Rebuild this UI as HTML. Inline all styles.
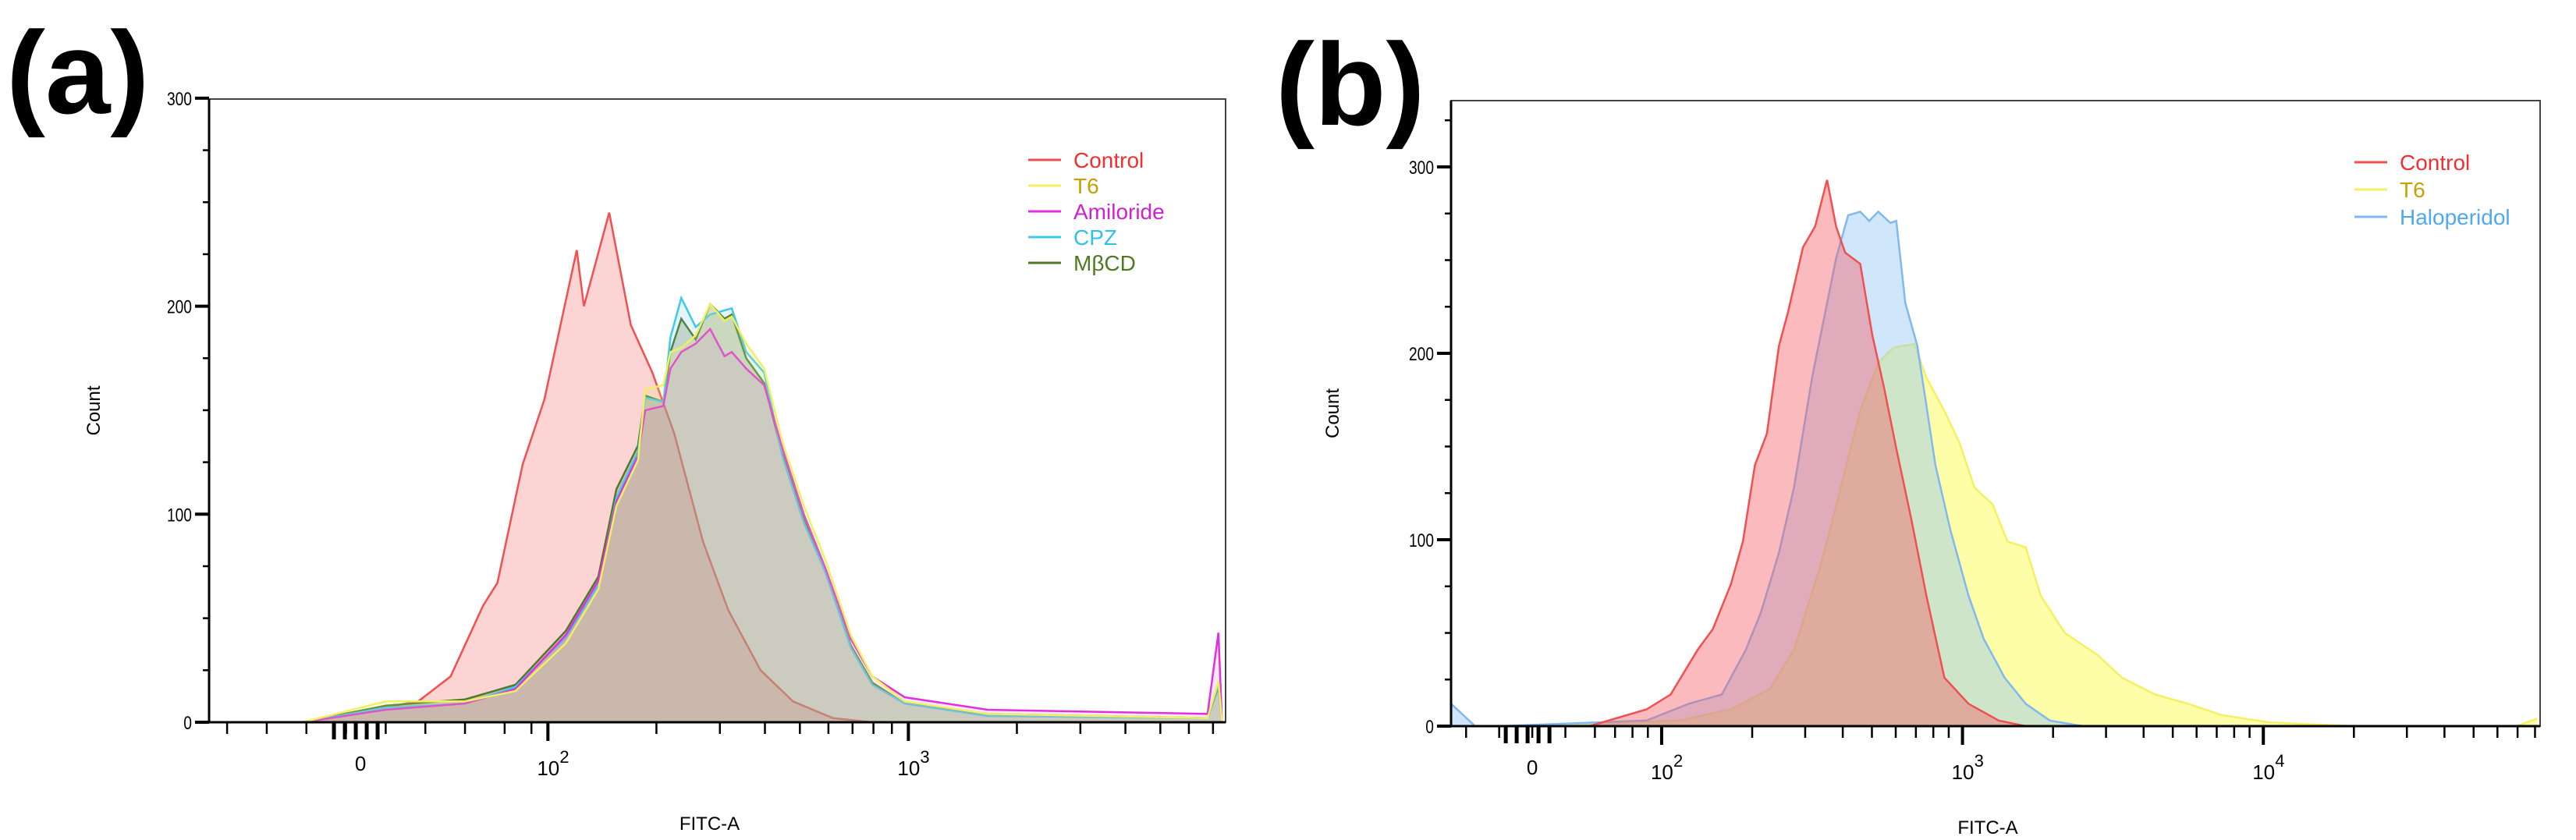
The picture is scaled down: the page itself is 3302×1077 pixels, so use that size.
<!DOCTYPE html>
<html><head><meta charset="utf-8">
<style>
html,body{margin:0;padding:0;background:#fff;}
svg{display:block;font-family:"Liberation Sans",Arial,sans-serif;}
</style></head>
<body>
<svg id="fig" width="3302" height="1077" viewBox="0 0 3302 1077">
  <text x="8" y="145" font-size="150" font-weight="bold">(a)</text>
  <text x="1635" y="160" font-size="150" font-weight="bold">(b)</text>
  <g id="pa"></g>
  <g id="pb"></g>
</svg>
<script>
// ---------- Panel (a) data (x in log-decade units, y counts) ----------
const aControlX=[1.32,1.64,1.73,1.82,1.86,1.93,1.99,2.08,2.10,2.17,2.23,2.29,2.35,2.43,2.50,2.59,2.68,2.79,2.90];
const aControlY=[0,10,22,56,67,124,155,227,200,245,191,168,139,87,54,25,10,2,0];
const aT6X=[1.32,1.55,1.77,1.91,2.05,2.14,2.19,2.25,2.27,2.32,2.34,2.37,2.41,2.45,2.49,2.51,2.55,2.60,2.65,2.71,2.77,2.84,2.90,2.99,3.22,3.83,3.86,3.87];
const aT6Y=[0,10,10,15,38,64,104,126,160,162,178,180,186,201,193,195,182,170,135,104,78,42,22,10,4,2,20,0];
const aAmiY=[0,6,9,16,42,68,106,128,150,152,170,178,182,189,176,178,170,162,132,100,74,40,22,12,6,4,43,0];
const aCpzY=[0,7,9,17,41,66,108,130,156,154,185,204,190,196,198,199,178,168,128,96,72,36,18,9,3,2,18,0];
const aMbcdY=[0,8,11,18,44,70,112,133,157,154,178,194,184,201,194,196,175,163,129,98,72,37,19,9,4,2,17,0];
// ---------- Panel (b) data ----------
const bControlX=[1.76,1.95,2.03,2.12,2.17,2.23,2.27,2.31,2.35,2.39,2.42,2.47,2.51,2.55,2.58,2.61,2.66,2.70,2.74,2.78,2.83,2.88,2.94,3.02,3.12,3.21];
const bControlY=[0,9,17,41,52,76,99,140,157,204,222,257,268,293,268,254,248,210,181,149,111,70,26,12,3,0];
const bHaloX=[1.30,1.38,1.46,1.95,2.09,2.20,2.28,2.33,2.39,2.44,2.50,2.54,2.58,2.62,2.66,2.69,2.72,2.76,2.78,2.81,2.85,2.91,2.96,3.02,3.07,3.14,3.21,3.29,3.40];
const bHaloY=[12,0,0,3,12,17,41,61,93,128,187,219,251,274,276,271,276,270,271,227,204,140,105,70,47,26,12,3,0];
const bT6X=[1.57,2.06,2.23,2.36,2.44,2.53,2.61,2.66,2.72,2.77,2.84,2.88,2.94,2.99,3.04,3.10,3.15,3.21,3.26,3.34,3.45,3.53,3.64,3.75,3.86,4.02,4.30,4.84,4.91];
const bT6Y=[0,3,9,20,41,87,137,169,195,203,205,187,169,152,128,119,99,96,70,50,38,26,17,12,6,2,0,0,4];
// tick labels
const aYTicks=[0,100,200,300];
const bYTicks=[0,100,200,300];
const aXDecades=[2,3];
const bXDecades=[2,3,4];

const NS="http://www.w3.org/2000/svg";
function mk(parent,tag,attrs){const e=document.createElementNS(NS,tag);for(const k in attrs)e.setAttribute(k,attrs[k]);parent.appendChild(e);return e;}

function panel(g,cfg){
  const X=d=>cfg.x0+(d-cfg.d0)/(cfg.d1-cfg.d0)*(cfg.x1-cfg.x0);
  const Y=c=>cfg.yZero-c*cfg.pxPer;
  // series
  cfg.series.forEach(s=>{
    let p="M"+X(s.x[0]).toFixed(1)+","+Y(0).toFixed(1);
    s.x.forEach((d,i)=>{p+=" L"+X(d).toFixed(1)+","+Y(s.y[i]).toFixed(1);});
    p+=" L"+X(s.x[s.x.length-1]).toFixed(1)+","+Y(0).toFixed(1)+" Z";
    const a=mk(g,"path",{d:p,fill:s.fill,stroke:"none"});
    
    
    let l="M"+s.x.map((d,i)=>X(d).toFixed(1)+","+Y(s.y[i]).toFixed(1)).join(" L");
    const ln=mk(g,"path",{d:l,fill:"none",stroke:s.stroke,"stroke-width":2.5});
    
    
  });
  // frame
  const fr=mk(g,"rect",{x:cfg.x0,y:cfg.top,width:cfg.x1-cfg.x0,height:cfg.yZero-cfg.top,fill:"none",stroke:"#444","stroke-width":2});
  
  
  mk(g,"line",{x1:cfg.x0,y1:cfg.yZero,x2:cfg.x1,y2:cfg.yZero,stroke:"#000","stroke-width":3});
  mk(g,"line",{x1:cfg.x0,y1:cfg.top,x2:cfg.x0,y2:cfg.yZero,stroke:"#000","stroke-width":3});
  // y ticks
  for(let c=0;c<=cfg.yMax;c+=25){
    const major=c%100===0;
    mk(g,"line",{x1:cfg.x0-(major?18:8),y1:Y(c),x2:cfg.x0,y2:Y(c),stroke:"#000","stroke-width":major?4:2.5});
  }
  cfg.yTicks.forEach(c=>{
    const t=mk(g,"text",{x:cfg.x0-22,y:Y(c)+9,"font-size":24,"text-anchor":"end",transform:`translate(${cfg.x0-22},0) scale(0.8,1) translate(${-(cfg.x0-22)},0)`});
    t.textContent=c;
    
    
  });
  // x minor log ticks
  for(let dec=Math.floor(cfg.d0);dec<Math.ceil(cfg.d1);dec++){
    for(let m=1;m<10;m++){
      const d=dec+Math.log10(m);
      if(d<cfg.logStart||d>cfg.d1)continue;
      const major=m===1;
      mk(g,"line",{x1:X(d),y1:cfg.yZero,x2:X(d),y2:cfg.yZero+(major?24:15),stroke:"#000","stroke-width":major?4:2.5});
    }
  }
  // linear-region ticks
  for(let d=cfg.d0+0.05;d<cfg.logStart;d+=0.11){
    mk(g,"line",{x1:X(d),y1:cfg.yZero,x2:X(d),y2:cfg.yZero+15,stroke:"#000","stroke-width":2.5});
  }
  for(let k=-2;k<=2;k++){
    mk(g,"line",{x1:X(cfg.zeroD)+k*14-6,y1:cfg.yZero,x2:X(cfg.zeroD)+k*14-6,y2:cfg.yZero+22,stroke:"#000","stroke-width":5});
  }
  // x labels
  const z=mk(g,"text",{x:X(cfg.zeroD),y:cfg.yZero+62,"font-size":26,"text-anchor":"middle"});
  z.textContent="0";
  
  
  cfg.xDecades.forEach(dec=>{
    const t=mk(g,"text",{x:X(dec)-14,y:cfg.yZero+68,"font-size":26});
    t.textContent="10";
    
    
    const s=mk(g,"text",{x:X(dec)+15,y:cfg.yZero+52,"font-size":22});
    s.textContent=String(dec);
  });
  const xt=mk(g,"text",{x:(cfg.x0+cfg.x1)/2-10,y:cfg.yZero+138,"font-size":24,"text-anchor":"middle"});
  xt.textContent="FITC-A";
  
  
  const yt=mk(g,"text",{x:0,y:0,"font-size":24,"text-anchor":"middle",transform:`translate(${cfg.yTitleX},${(cfg.top+cfg.yZero)/2}) rotate(-90)`});
  yt.textContent="Count";
  
  
  // legend
  cfg.series.slice().sort((a,b)=>a.order-b.order).forEach((s,i)=>{
    const yy=cfg.legY+i*cfg.legGap;
    mk(g,"line",{x1:cfg.legX,y1:yy,x2:cfg.legX+42,y2:yy,stroke:s.stroke,"stroke-width":3});
    const t=mk(g,"text",{x:cfg.legX+58,y:yy+10,"font-size":28,fill:s.text});
    t.textContent=s.label;
    
    
  });
}

panel(document.getElementById("pa"),{
  x0:268,x1:1571,top:127,yZero:926,pxPer:2.667,yMax:300,d0:1.06,d1:3.88,logStart:1.95,zeroD:1.48,
  yTicks:aYTicks,xDecades:aXDecades,yTitleX:128,legX:1318,legY:205,legGap:33,
  series:[
    {name:"control",label:"Control",x:aControlX,y:aControlY,fill:"rgba(245,120,120,0.32)",stroke:"#f05050",text:"#f03030",order:0},
    {name:"mbcd",label:"MβCD",x:aT6X,y:aMbcdY,fill:"rgba(110,120,70,0.28)",stroke:"#4e7a26",text:"#4e7a20",order:4},
    {name:"cpz",label:"CPZ",x:aT6X,y:aCpzY,fill:"rgba(90,190,220,0.16)",stroke:"#40c8f0",text:"#30c0f0",order:3},
    {name:"amiloride",label:"Amiloride",x:aT6X,y:aAmiY,fill:"rgba(220,90,220,0.14)",stroke:"#e030e0",text:"#d020d0",order:2},
    {name:"t6",label:"T6",x:aT6X,y:aT6Y,fill:"rgba(240,240,120,0.18)",stroke:"#f0f060",text:"#c8a000",order:1}
  ]
});
panel(document.getElementById("pb"),{
  x0:1860,x1:3256,top:129,yZero:931,pxPer:2.39,yMax:325,d0:1.30,d1:4.92,logStart:1.70,zeroD:1.57,
  yTicks:bYTicks,xDecades:bXDecades,yTitleX:1716,legX:3018,legY:208,legGap:35,
  series:[
    {name:"t6",label:"T6",x:bT6X,y:bT6Y,fill:"rgba(253,253,110,0.6)",stroke:"#f4f060",text:"#c8a000",order:1},
    {name:"haloperidol",label:"Haloperidol",x:bHaloX,y:bHaloY,fill:"rgba(150,200,245,0.45)",stroke:"#80b8f0",text:"#50a8f0",order:2},
    {name:"control",label:"Control",x:bControlX,y:bControlY,fill:"rgba(245,90,100,0.42)",stroke:"#f05050",text:"#f03030",order:0}
  ]
});
</script>
</body></html>
